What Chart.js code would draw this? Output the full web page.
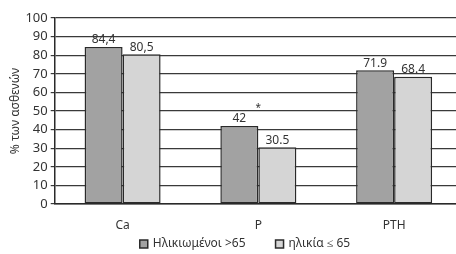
<!DOCTYPE html>
<html>
<head>
<meta charset="utf-8">
<script src="https://cdn.jsdelivr.net/npm/chart.js@4"></script>
<style>
  html, body { margin: 0; padding: 0; background: #fff; overflow: hidden; }
  #wrap { width: 462px; height: 254px; }
</style>
</head>
<body>
<div id="wrap"><canvas id="chart"></canvas></div>
<script>
const categories = ['Ca', 'P', 'PTH'];
const elderly = [84.4, 42, 71.9];
const younger = [80.5, 30.5, 68.4];
const elderlyLabels = ['84,4', '42', '71.9'];
const youngerLabels = ['80,5', '30.5', '68.4'];
const seriesNames = ['Ηλικιωμένοι >65', 'ηλικία ≤ 65'];
const yTitle = '% των ασθενών';
const starCategory = 'P';
const starValue = 51;

const font = 'Noto Sans';
const textColor = '#333';
const edge = '#2a2a2a';

// value labels above the bars + the asterisk over P
const barLabels = {
  id: 'barLabels',
  afterDatasetsDraw(chart) {
    const ctx = chart.ctx;
    const texts = [elderlyLabels, youngerLabels];
    ctx.save();
    ctx.font = '12px "' + font + '"';
    ctx.fillStyle = textColor;
    ctx.textAlign = 'center';
    ctx.textBaseline = 'bottom';
    chart.data.datasets.forEach((ds, i) => {
      chart.getDatasetMeta(i).data.forEach((bar, j) => {
        ctx.fillText(texts[i][j], bar.x, bar.y - 1);
      });
    });
    const x = chart.scales.x.getPixelForValue(categories.indexOf(starCategory));
    const y = chart.scales.y.getPixelForValue(starValue);
    ctx.font = '10px "' + font + '"';
    ctx.fillText('*', x, y + 4);
    ctx.restore();
  }
};

// legend drawn by hand so the item gap matches the original
const bottomLegend = {
  id: 'bottomLegend',
  afterDraw(chart) {
    const ctx = chart.ctx;
    ctx.save();
    ctx.font = '12px "' + font + '"';
    ctx.textBaseline = 'middle';
    const items = chart.data.datasets.map(ds => ({
      text: ds.label, fill: ds.backgroundColor, w: ctx.measureText(ds.label).width,
    }));
    const box = 8, gap = 5, between = 30;
    const total = items.reduce((s, it) => s + box + gap + it.w, 0) + between * (items.length - 1);
    let x = 245 - total / 2;
    const y = 244;
    items.forEach(it => {
      ctx.fillStyle = it.fill;
      ctx.fillRect(x, y - box / 2, box, box);
      ctx.strokeStyle = edge;
      ctx.lineWidth = 1.5;
      ctx.strokeRect(x, y - box / 2, box, box);
      ctx.fillStyle = textColor;
      ctx.fillText(it.text, x + box + gap, y);
      x += box + gap + it.w + between;
    });
    ctx.restore();
  }
};

new Chart(document.getElementById('chart'), {
  type: 'bar',
  data: {
    labels: categories,
    datasets: [
      {
        label: seriesNames[0],
        data: elderly,
        backgroundColor: '#a2a2a2',
        borderColor: edge,
        borderWidth: 1.5,
        borderSkipped: false,
      },
      {
        label: seriesNames[1],
        data: younger,
        backgroundColor: '#d5d5d5',
        borderColor: edge,
        borderWidth: 1.5,
        borderSkipped: false,
      },
    ],
  },
  options: {
    responsive: true,
    maintainAspectRatio: false,
    animation: false,
    layout: { padding: { top: 18, left: 8, right: 0, bottom: 21 } },
    datasets: { bar: { barPercentage: 1, categoryPercentage: 0.56 } },
    plugins: {
      legend: { display: false },
      tooltip: { enabled: false },
    },
    scales: {
      x: {
        grid: { display: false },
        border: { color: edge, width: 1.5 },
        ticks: { color: textColor, font: { family: font, size: 12 }, padding: 6 },
        afterFit(scale) { scale.height = 29; },
      },
      y: {
        min: 0,
        max: 100,
        ticks: { stepSize: 10, autoSkip: false, color: textColor, font: { family: font, size: 13 }, padding: 3 },
        grid: { color: '#3a3a3a', lineWidth: 1.2, tickLength: 4 },
        border: { color: edge, width: 1.5 },
        title: {
          display: true,
          text: yTitle,
          color: textColor,
          font: { family: font, size: 12 },
          padding: { top: 0, bottom: 0 },
        },
      },
    },
  },
  plugins: [barLabels, bottomLegend],
});
</script>
</body>
</html>
